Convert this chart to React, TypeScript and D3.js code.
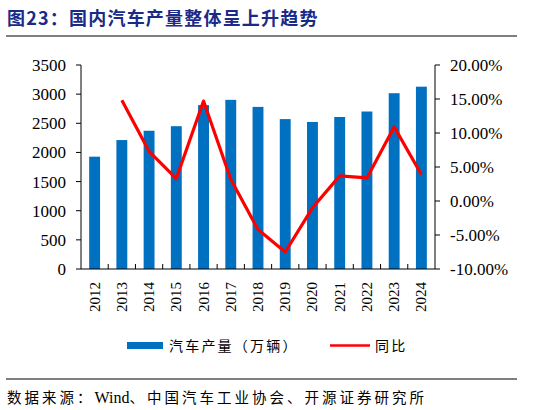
import React from 'react';
import * as d3 from 'd3';

const years = ['2012', '2013', '2014', '2015', '2016', '2017', '2018', '2019', '2020', '2021', '2022', '2023', '2024'];
const output = [1927, 2212, 2372, 2450, 2812, 2902, 2781, 2572, 2523, 2608, 2702, 3016, 3128];
// YoY in %, 2012 has no value
const yoy: (number | null)[] = [null, 14.8, 7.3, 3.3, 14.7, 3.2, -4.2, -7.5, -1.0, 3.7, 3.4, 10.9, 3.9];
const leftTicks = [0, 500, 1000, 1500, 2000, 2500, 3000, 3500];
const rightTicks = [-10, -5, 0, 5, 10, 15, 20];

const serif = '"Liberation Serif", "Times New Roman", serif';
const cjk = '"Noto Sans CJK SC", sans-serif';

const App: React.FC = () => {
  const width = 536;
  const height = 410;
  const left = 81;
  const right = 435;
  const top = 65;
  const bottom = 269;

  const x = d3.scaleBand<string>().domain(years).range([left, right]).paddingInner(0.6).paddingOuter(0.3);
  const xb = d3.scaleBand<string>().domain(years).range([left, right]);
  const y = d3.scaleLinear().domain([0, 3500]).range([bottom, top]);
  const y2 = d3.scaleLinear().domain([-10, 20]).range([bottom, top]);

  const line = d3
    .line<number | null>()
    .defined((d) => d !== null)
    .x((_, i) => (xb(years[i]) || 0) + xb.bandwidth() / 2)
    .y((d) => y2(d as number));

  return (
    <svg width={width} height={height} style={{ position: 'absolute', left: 0, top: 0 }}>
      <rect width={width} height={height} fill="#fff" />
      <text x={7} y={25} fontFamily={cjk} fontWeight="bold" fontSize={18} letterSpacing={1.2} fill="#1C2A87">
        图23：国内汽车产量整体呈上升趋势
      </text>
      <line x1={6} x2={517} y1={36} y2={36} stroke="#000" strokeWidth={1.2} />

      {output.map((v, i) => (
        <rect key={years[i]} x={x(years[i])} width={x.bandwidth()} y={y(v)} height={bottom - y(v)} fill="#0070C0" />
      ))}

      {/* left axis */}
      <line x1={left} x2={left} y1={top} y2={bottom} stroke="#000" />
      {leftTicks.map((t) => (
        <g key={t}>
          <line x1={left - 5} x2={left} y1={y(t)} y2={y(t)} stroke="#000" />
          <text x={left - 15} y={y(t)} dy="0.35em" textAnchor="end" fontFamily={serif} fontSize={17} fill="#000">
            {t}
          </text>
        </g>
      ))}

      {/* right axis */}
      <line x1={right} x2={right} y1={top} y2={bottom} stroke="#000" />
      {rightTicks.map((t) => (
        <g key={t}>
          <line x1={right} x2={right + 5} y1={y2(t)} y2={y2(t)} stroke="#000" />
          <text x={right + 15} y={y2(t)} dy="0.35em" textAnchor="start" fontFamily={serif} fontSize={17} fill="#000">
            {t.toFixed(2)}%
          </text>
        </g>
      ))}

      {/* bottom axis */}
      <line x1={left} x2={right} y1={bottom} y2={bottom} stroke="#000" />
      {years.slice(1).map((yr) => (
        <line key={yr} x1={xb(yr)} x2={xb(yr)} y1={bottom} y2={bottom - 5} stroke="#000" />
      ))}
      {years.map((yr) => {
        const cx = (xb(yr) || 0) + xb.bandwidth() / 2;
        return (
          <text
            key={yr}
            transform={`translate(${cx + 5},${282}) rotate(-90)`}
            textAnchor="end"
            fontFamily={serif}
            fontSize={15}
            fill="#000"
          >
            {yr}
          </text>
        );
      })}

      <path d={line(yoy) || ''} fill="none" stroke="#FF0000" strokeWidth={3.2} strokeLinejoin="round" />

      {/* legend */}
      <rect x={127} y={342} width={36} height={7} fill="#0070C0" />
      <text x={169} y={351} fontFamily={cjk} fontSize={14} letterSpacing={2.2} fill="#000">
        汽车产量（万辆）
      </text>
      <line x1={330} x2={370} y1={345.5} y2={345.5} stroke="#FF0000" strokeWidth={2.5} />
      <text x={375} y={351} fontFamily={cjk} fontSize={14} letterSpacing={2.2} fill="#000">
        同比
      </text>

      <line x1={6} x2={517} y1={379} y2={379} stroke="#000" strokeWidth={1} />
      <text x={7} y={403} fontFamily={cjk} fontSize={14.5} letterSpacing={3} fill="#000">
        数据来源：<tspan fontFamily={serif} fontSize={16} letterSpacing={0}>Wind</tspan>、中国汽车工业协会、开源证券研究所
      </text>
    </svg>
  );
};

export default App;
